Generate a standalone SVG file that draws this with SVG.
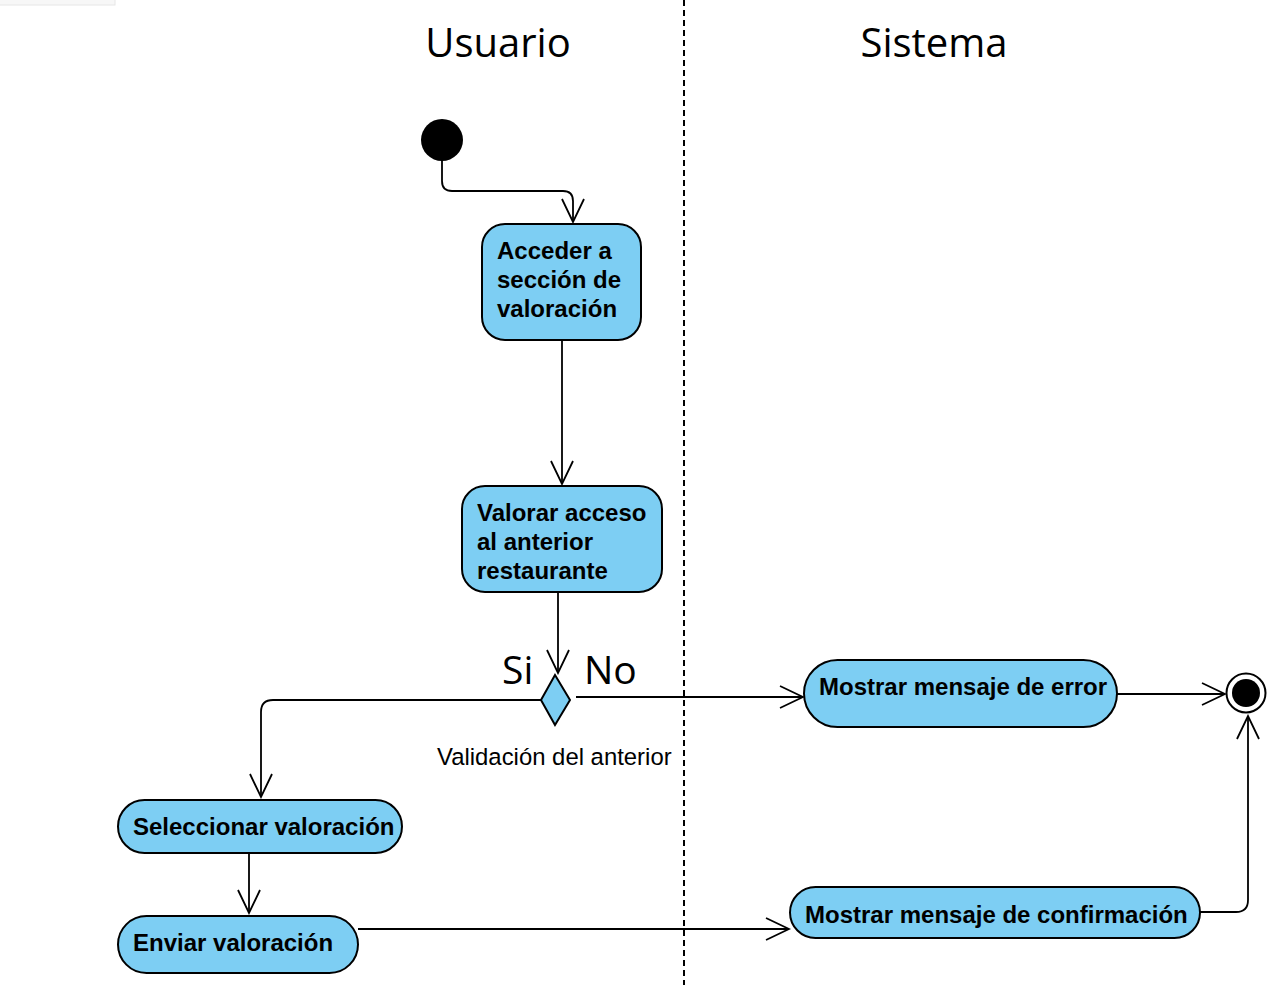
<svg xmlns="http://www.w3.org/2000/svg" width="1278" height="985" viewBox="0 0 1278 985">
<defs>
<style>
.node{fill:#7dcef3;stroke:#000;stroke-width:2}
.lbl{font-family:"Liberation Sans",Arial,sans-serif;font-weight:bold;font-size:24px;fill:#000}
.lane{font-family:"Open Sans","Noto Sans",sans-serif;font-size:40px;fill:#000}
.guard{font-family:"Open Sans","Noto Sans",sans-serif;font-size:39px;fill:#000}
.note{font-family:"Liberation Sans",Arial,sans-serif;font-size:23.9px;fill:#000}
.edge{fill:none;stroke:#000;stroke-width:1.8;marker-end:url(#open)}
</style>
<marker id="open" viewBox="0 0 26 26" refX="24" refY="12" markerWidth="26" markerHeight="26" markerUnits="userSpaceOnUse" orient="auto">
<path d="M1,1 L24,12 L1,23" fill="none" stroke="#000" stroke-width="1.8"/>
</marker>
</defs>
<rect width="1278" height="985" fill="#fff"/>
<rect x="-1" y="-1" width="116" height="6" fill="#f7f7f7" stroke="#e6e6e6" stroke-width="1"/>
<line x1="684" y1="0" x2="684" y2="985" stroke="#000" stroke-width="2" stroke-dasharray="6 4"/>
<text class="lane" x="498" y="57" text-anchor="middle">Usuario</text>
<text class="lane" x="934" y="57" text-anchor="middle">Sistema</text>

<g id="connectors">
<path class="edge" d="M442,161 V181 Q442,191 452,191 H563 Q573,191 573,201 V222"/>
<path class="edge" d="M562,340 V484"/>
<path class="edge" d="M558,592 V673"/>
<path class="edge" d="M541,700 H273 Q261,700 261,712 V797"/>
<path class="edge" d="M576,697 H803"/>
<path class="edge" d="M1117,694 H1225"/>
<path class="edge" d="M249,853 V913"/>
<path class="edge" d="M358,929 H789"/>
<path class="edge" d="M1200,912 H1236 Q1248,912 1248,900 V716"/>
</g>

<g id="start"><circle cx="442" cy="140" r="21" fill="#000"/></g>

<g id="acceder">
<rect class="node" x="482" y="224" width="159" height="116" rx="23"/>
<text class="lbl" x="497" y="259">Acceder a</text>
<text class="lbl" x="497" y="288">sección de</text>
<text class="lbl" x="497" y="317">valoración</text>
</g>

<g id="valorar">
<rect class="node" x="462" y="486" width="200" height="106" rx="23"/>
<text class="lbl" x="477" y="521">Valorar acceso</text>
<text class="lbl" x="477" y="550">al anterior</text>
<text class="lbl" x="477" y="579">restaurante</text>
</g>

<g id="decision">
<polygon class="node" points="555,675 570,700 555,725 541,700" stroke-width="1.8"/>
<text class="guard" x="502" y="684">Si</text>
<text class="guard" x="584" y="684">No</text>
<text class="note" x="437" y="765">Validación del anterior</text>
</g>

<g id="seleccionar">
<rect class="node" x="118" y="800" width="284" height="53" rx="26.5"/>
<text class="lbl" x="133" y="835">Seleccionar valoración</text>
</g>

<g id="enviar">
<rect class="node" x="118" y="916" width="240" height="57" rx="28.5"/>
<text class="lbl" x="133" y="951">Enviar valoración</text>
</g>

<g id="error">
<rect class="node" x="804" y="660" width="313" height="67" rx="33.5"/>
<text class="lbl" x="819" y="695">Mostrar mensaje de error</text>
</g>

<g id="confirmacion">
<rect class="node" x="790" y="887" width="410" height="51" rx="25.5"/>
<text class="lbl" x="805" y="923">Mostrar mensaje de confirmación</text>
</g>

<g id="end">
<circle cx="1246" cy="693" r="19.5" fill="#fff" stroke="#000" stroke-width="2"/>
<circle cx="1246" cy="693" r="14" fill="#000"/>
</g>
</svg>
